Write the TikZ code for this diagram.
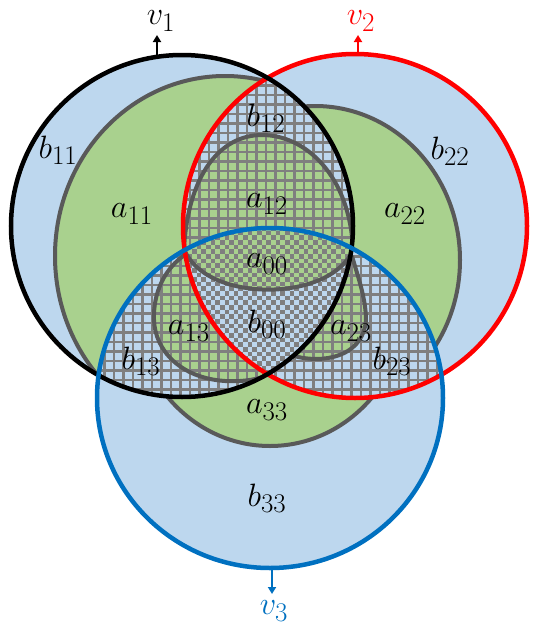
\documentclass[tikz,border=0pt]{standalone}
\usetikzlibrary{arrows.meta}
\definecolor{lblue}{HTML}{BDD7EE}
\definecolor{lgreen}{HTML}{A9D18E}
\definecolor{dgray}{HTML}{595959}
\definecolor{hgray}{HTML}{7F7F7F}
\definecolor{vblue}{HTML}{0070C0}
\definecolor{vred}{HTML}{FF0000}
\newcommand\myCa{(182,226) ellipse [x radius=171, y radius=171]}
\newcommand\myCb{(355,226) ellipse [x radius=172, y radius=172]}
\newcommand\myCc{(270,398) ellipse [x radius=173, y radius=170]}
\newcommand\myEa{(225,256) ellipse [x radius=170, y radius=180]}
\newcommand\myEb{(315,260) ellipse [x radius=145, y radius=154]}
\newcommand\myEc{(270,300) ellipse [x radius=137, y radius=146]}
\newcommand\myA{(184,249) .. controls (188,175) and (220,135) .. (262,135) .. controls (305,135) and (350,175) .. (353,250) .. controls (330,303) and (205,303) .. (184,249) -- cycle}
\newcommand\myBline{(186,254) .. controls (165,268) and (153,292) .. (154,320) .. controls (155,350) and (180,378) .. (225,381) .. controls (245,382) and (260,379) .. (270,374)}
\newcommand\myDline{(352,256) .. controls (357,274) and (366,298) .. (366,320) .. controls (364,345) and (345,358) .. (318,359) .. controls (305,359) and (297,357) .. (292,355)}
\newcommand\mygrid{\foreach \k in {0,...,66}{\draw[gline] ({\k*9.5},0) -- ({\k*9.5},629); \draw[gline] (0,{\k*9.5}) -- (539,{\k*9.5});}}
\newcommand\mychecker{\foreach \j in {0,2,...,34}{\draw[crow] (178,{226+\j*4.65+2.325}) -- (366,{226+\j*4.65+2.325});}\foreach \j in {1,3,...,35}{\draw[crow,dash phase=4.65pt] (178,{226+\j*4.65+2.325}) -- (366,{226+\j*4.65+2.325});}}
\tikzset{
 outl/.style={draw=dgray, line width=4pt},
 gline/.style={draw=hgray, line width=2.4pt},
 crow/.style={draw=hgray, line width=4.65pt, dash pattern=on 4.65pt off 4.65pt},
 lab/.style={font=\Huge, scale=1.3, inner sep=0pt},
 ring/.style={line width=4.5pt},
 varr/.style={line width=2pt, -{Triangle[width=8pt,length=7pt]}},
}
\begin{document}
\begin{tikzpicture}[x=1pt,y=-1pt]
\useasboundingbox (0,0) rectangle (539,629);
% base fills
\fill[lblue] \myCa; \fill[lblue] \myCb; \fill[lblue] \myCc;
% green ellipses
\begin{scope}\clip \myCa; \fill[lgreen] \myEa; \draw[outl] \myEa; \end{scope}
\begin{scope}\clip \myCb; \fill[lgreen] \myEb; \draw[outl] \myEb; \end{scope}
\begin{scope}\clip \myCc; \fill[lgreen] \myEc; \draw[outl] \myEc; \end{scope}
% lens 1-2
\begin{scope}\clip \myCa; \clip \myCb;
 \fill[lblue] (0,0) rectangle (539,629);
 \fill[lgreen] \myA;
 \mygrid
 \draw[outl] \myA;
\end{scope}
% lens 1-3
\begin{scope}\clip \myCa; \clip \myCc;
 \fill[lblue] (0,0) rectangle (539,629);
 \fill[lgreen] \myBline -- (300,320) -- cycle;
 \mygrid
 \draw[outl] \myBline;
\end{scope}
% lens 2-3
\begin{scope}\clip \myCb; \clip \myCc;
 \fill[lblue] (0,0) rectangle (539,629);
 \fill[lgreen] \myDline -- (320,300) -- cycle;
 \mygrid
 \draw[outl] \myDline;
\end{scope}
% triple
\begin{scope}\clip \myCa; \clip \myCb; \clip \myCc;
 \fill[lblue] (0,0) rectangle (539,629);
 \fill[lgreen] \myA;
 \mychecker
 \draw[outl] \myA;
\end{scope}
% rings
\draw[ring, vred] \myCb;
\draw[ring, black] \myCa;
\draw[ring, vblue] \myCc;
% arrows and v labels
\coordinate (t1) at (157,56);
\coordinate (h1) at (157,35);
\coordinate (t2) at (358,55);
\coordinate (h2) at (358,35);
\coordinate (t3) at (272,569);
\coordinate (h3) at (272,594);
\draw[varr, black] (t1) -- (h1);
\draw[varr, vred] (t2) -- (h2);
\draw[varr, vblue] (t3) -- (h3);
\node[lab, black] (v1) at (161,21) {$v_1$};
\node[lab, vred] (v2) at (361,21) {$v_2$};
\node[lab, vblue] (v3) at (274,611) {$v_3$};
% region labels
\node[lab] (b11) at (58,150) {$b_{11}$};
\node[lab] (a11) at (132,214) {$a_{11}$};
\node[lab] (b12) at (266,118) {$b_{12}$};
\node[lab] (a12) at (267,204) {$a_{12}$};
\node[lab] (a00) at (267,264) {$a_{00}$};
\node[lab] (b22) at (450,151) {$b_{22}$};
\node[lab] (a22) at (405,214) {$a_{22}$};
\node[lab] (a13) at (189,331) {$a_{13}$};
\node[lab] (b00) at (267,324) {$b_{00}$};
\node[lab] (a23) at (351,331) {$a_{23}$};
\node[lab] (b13) at (141,361) {$b_{13}$};
\node[lab] (b23) at (392,361) {$b_{23}$};
\node[lab] (a33) at (267,410) {$a_{33}$};
\node[lab] (b33) at (267,498) {$b_{33}$};
\end{tikzpicture}
\end{document}
